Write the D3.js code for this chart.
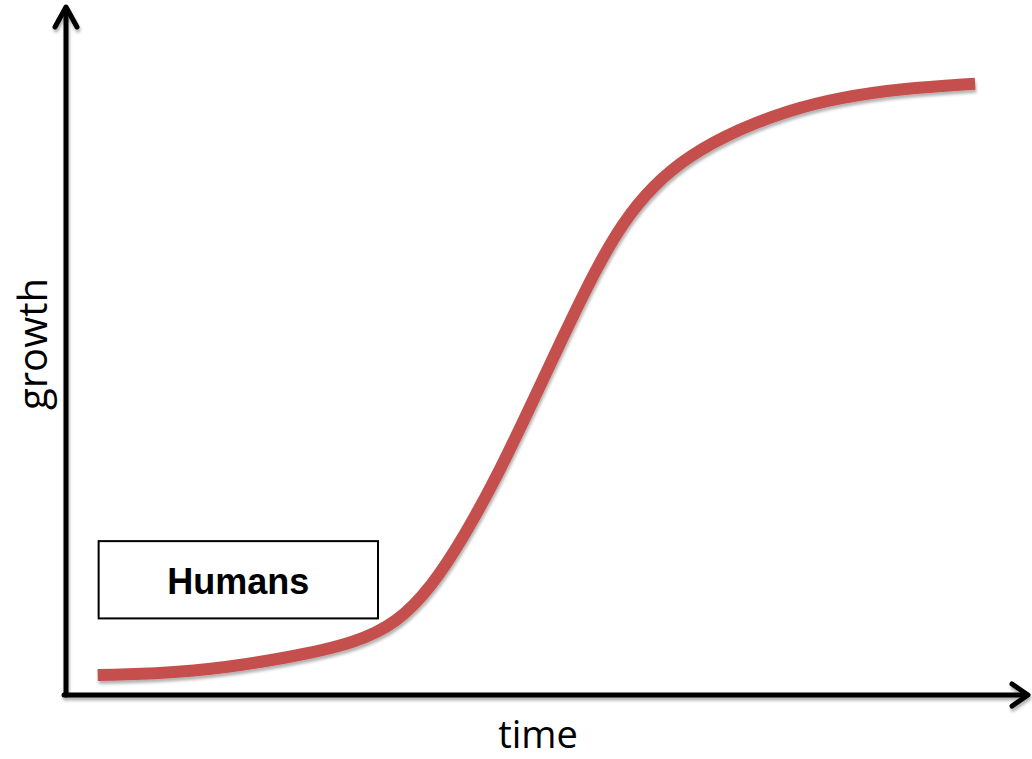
<!DOCTYPE html>
<html>
<head>
<meta charset="utf-8">
<script src="https://cdn.jsdelivr.net/npm/d3@7"></script>
<style>
  html, body { margin: 0; padding: 0; background: #ffffff; }
  svg { display: block; }
</style>
</head>
<body>
<svg id="chart" width="1032" height="759"></svg>
<script>
// ---- data (arbitrary units 0..100) ----
const timeValues   = [3.3, 12.9, 23.3, 30.3, 34.5, 38.0, 41.5, 45.2, 48.6, 51.8, 55.1, 58.0, 61.1, 65.0, 70.2, 75.4, 80.6, 87.0, 94.7];
const growthValues = [2.9, 3.2, 5.4, 7.6, 10.5, 15.5, 23.0, 32.5, 42.5, 52.0, 61.5, 68.5, 73.8, 78.3, 82.1, 84.8, 86.6, 87.9, 88.6];
const xAxisLabel = "time";
const yAxisLabel = "growth";
const boxLabel = "Humans";
// box position in data units: [time start, time end], [growth bottom, growth top]
const boxTime = [3.4, 32.5];
const boxGrowth = [11.1, 22.3];

const svg = d3.select("#chart");
const x = d3.scaleLinear().domain([0, 100]).range([66, 1026]);
const y = d3.scaleLinear().domain([0, 100]).range([695, 5]);

const defs = svg.append("defs");
const sh = defs.append("filter").attr("id", "shadow")
  .attr("x", "-10%").attr("y", "-10%").attr("width", "130%").attr("height", "130%");
sh.append("feDropShadow").attr("dx", 1).attr("dy", 3).attr("stdDeviation", 1.8)
  .attr("flood-color", "#000").attr("flood-opacity", 0.3);

// ---- axes with arrowheads ----
const axes = svg.append("g").attr("filter", "url(#shadow)")
  .attr("stroke", "#000").attr("stroke-width", 5)
  .attr("fill", "none").attr("stroke-linecap", "round").attr("stroke-linejoin", "round");

const x0 = x(0), y0 = y(0), yTop = y(100), xEnd = x(100);
axes.append("line").attr("x1", x0).attr("y1", y0).attr("x2", x0).attr("y2", yTop + 3);
axes.append("line").attr("x1", x0 - 2).attr("y1", y0).attr("x2", xEnd + 1).attr("y2", y0);
axes.append("path").attr("d", `M${x0 - 11},${yTop + 22}L${x0},${yTop + 2}L${x0 + 11},${yTop + 22}`);
axes.append("path").attr("d", `M${xEnd - 14},${y0 - 11}L${xEnd + 2},${y0}L${xEnd - 14},${y0 + 11}`);

// ---- curve ----
const pts = timeValues.map((t, i) => [t, growthValues[i]]);
const line = d3.line().x(d => x(d[0])).y(d => y(d[1])).curve(d3.curveBasis);
svg.append("path").datum(pts)
  .attr("d", line)
  .attr("fill", "none")
  .attr("stroke", "#c4504e")
  .attr("stroke-width", 12)
  .attr("stroke-linecap", "butt")
  .attr("filter", "url(#shadow)");

// ---- labelled box ----
svg.append("rect")
  .attr("x", x(boxTime[0])).attr("y", y(boxGrowth[1]))
  .attr("width", x(boxTime[1]) - x(boxTime[0]))
  .attr("height", y(boxGrowth[0]) - y(boxGrowth[1]))
  .attr("fill", "#fff").attr("stroke", "#000").attr("stroke-width", 2);
svg.append("text")
  .attr("x", (x(boxTime[0]) + x(boxTime[1])) / 2)
  .attr("y", y(boxGrowth[0]) - 24)
  .attr("text-anchor", "middle")
  .attr("font-family", "'Liberation Sans', Arial, sans-serif")
  .attr("font-weight", "bold")
  .attr("font-size", 36)
  .attr("fill", "#000")
  .text(boxLabel);

// ---- axis titles ----
svg.append("text")
  .attr("x", 538).attr("y", 748)
  .attr("text-anchor", "middle")
  .attr("font-family", "'Open Sans', sans-serif")
  .attr("font-size", 38)
  .attr("fill", "#000")
  .text(xAxisLabel);
svg.append("text")
  .attr("transform", "translate(47,344) rotate(-90)")
  .attr("text-anchor", "middle")
  .attr("font-family", "'Open Sans', sans-serif")
  .attr("font-size", 40)
  .attr("fill", "#000")
  .text(yAxisLabel);
</script>
</body>
</html>
